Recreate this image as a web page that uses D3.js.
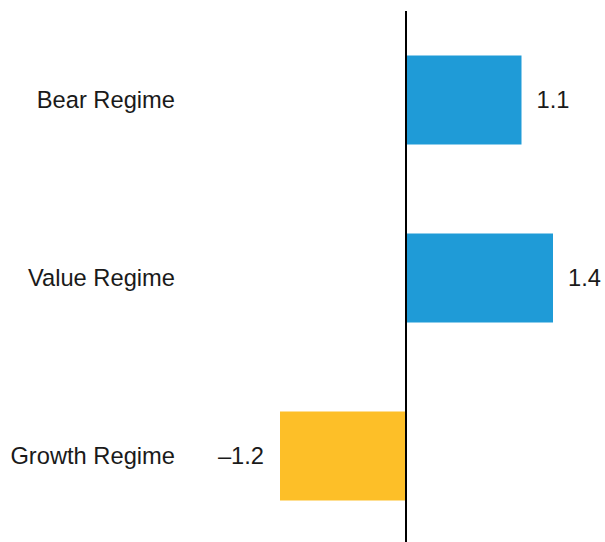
<!DOCTYPE html>
<html>
<head>
<meta charset="utf-8">
<script src="https://cdn.jsdelivr.net/npm/d3@7"></script>
<style>
  html, body { margin: 0; padding: 0; background: #fff; }
  svg { display: block; }
  text { font-family: Arial, "Liberation Sans", sans-serif; fill: #1a1a1a; }
</style>
</head>
<body>
<svg id="chart" width="605" height="542"></svg>
<script>
const categories = ["Bear Regime", "Value Regime", "Growth Regime"];
const values = [1.1, 1.4, -1.2];
const valueLabels = ["1.1", "1.4", "\u20131.2"];
const colors = { positive: "#1f9bd7", negative: "#fdbf28" };

const svg = d3.select("#chart");
const fontSize = 23.7;

const x = d3.scaleLinear().domain([-1.2, 1.4]).range([280, 553]);
const y = d3.scaleBand().domain(categories).range([11, 545]).paddingInner(0.5).paddingOuter(0.25);

const data = categories.map((c, i) => ({ c, v: values[i], label: valueLabels[i] }));

svg.selectAll("rect.bar").data(data).join("rect")
  .attr("class", "bar")
  .attr("x", d => Math.min(x(0), x(d.v)))
  .attr("width", d => Math.abs(x(d.v) - x(0)))
  .attr("y", d => y(d.c))
  .attr("height", y.bandwidth())
  .attr("fill", d => d.v >= 0 ? colors.positive : colors.negative);

// zero line
svg.append("line")
  .attr("x1", x(0)).attr("x2", x(0))
  .attr("y1", 11).attr("y2", 542)
  .attr("stroke", "#000").attr("stroke-width", 2);

// category labels
svg.selectAll("text.cat").data(data).join("text")
  .attr("class", "cat")
  .attr("x", 175)
  .attr("y", d => y(d.c) + y.bandwidth() / 2)
  .attr("text-anchor", "end")
  .attr("dominant-baseline", "central")
  .style("font-size", fontSize + "px")
  .text(d => d.c);

// value labels
svg.selectAll("text.val").data(data).join("text")
  .attr("class", "val")
  .attr("x", d => d.v >= 0 ? x(d.v) + 15 : x(d.v) - 16)
  .attr("y", d => y(d.c) + y.bandwidth() / 2)
  .attr("text-anchor", d => d.v >= 0 ? "start" : "end")
  .attr("dominant-baseline", "central")
  .style("font-size", fontSize + "px")
  .text(d => d.label);
</script>
</body>
</html>
